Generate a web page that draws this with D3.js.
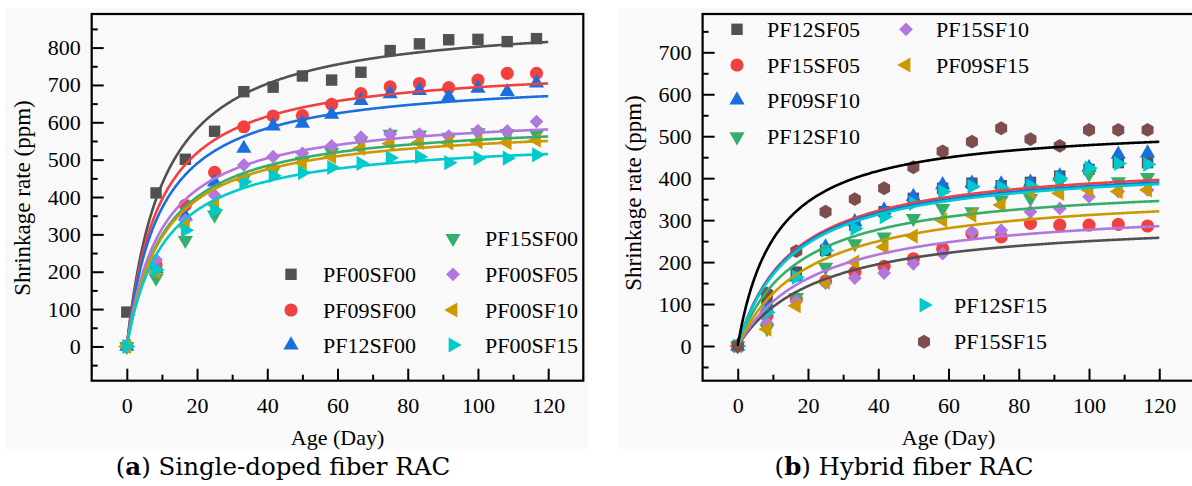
<!DOCTYPE html>
<html>
<head>
<meta charset="utf-8">
<script src="https://cdn.jsdelivr.net/npm/d3@7"></script>
<style>
  body { margin: 0; background: #ffffff; }
  svg { display: block; }
  text { font-family: "Liberation Serif", "Times New Roman", serif; fill: #000; }
</style>
</head>
<body>
<svg id="chart" width="1192" height="486"></svg>
<script>
// ---- measurement ages (days) ----
const days = [0, 8.33, 16.67, 25, 33.33, 41.67, 50, 58.33, 66.67, 75, 83.33, 91.67, 100, 108.33, 116.67];

// ---- (a) single-doped fiber RAC ----
const singleNames = ["PF00SF00", "PF09SF00", "PF12SF00", "PF15SF00", "PF00SF05", "PF00SF10", "PF00SF15"];
const singlePF00SF00 = [92, 411, 501, 576, 682, 694, 724, 713, 734, 792, 810, 821, 822, 816, 824];
const singlePF09SF00 = [0, 218, 378, 466, 588, 617, 618, 648, 677, 695, 704, 693, 713, 731, 731];
const singlePF12SF00 = [0, 208, 348, 440, 530, 590, 597, 621, 658, 676, 685, 669, 691, 682, 705];
const singlePF15SF00 = [0, 183, 284, 352, 450, 470, 497, 520, 550, 568, 566, 560, 572, 570, 568];
const singlePF00SF05 = [0, 232, 338, 405, 486, 508, 517, 537, 560, 568, 568, 563, 578, 577, 602];
const singlePF00SF10 = [0, 200, 322, 380, 445, 475, 492, 508, 530, 543, 546, 545, 548, 546, 552];
const singlePF00SF15 = [0, 205, 311, 365, 441, 457, 465, 479, 490, 505, 508, 492, 504, 504, 513];
// hyperbolic fit  S(t) = A * t / (B + t)
const singleFitA = [885.6, 758.6, 723.4, 611.6, 629.4, 598.0, 561.3];
const singleFitB = [10.39, 9.30, 9.56, 10.59, 10.00, 10.46, 10.78];

// ---- (b) hybrid fiber RAC ----
const hybridNames = ["PF12SF05", "PF15SF05", "PF09SF10", "PF12SF10", "PF15SF10", "PF09SF15", "PF12SF15", "PF15SF15"];
const hybridPF12SF05 = [0, 108, 176, 228, 288, 320, 352, 376, 388, 382, 390, 405, 421, 437, 437];
const hybridPF15SF05 = [0, 72, 112, 155, 176, 190, 208, 232, 268, 260, 292, 288, 288, 290, 286];
const hybridPF09SF10 = [0, 90, 164, 236, 296, 324, 356, 384, 388, 386, 390, 405, 425, 457, 460];
const hybridPF12SF10 = [0, 42, 116, 188, 244, 260, 304, 328, 320, 348, 352, 392, 410, 392, 402];
const hybridPF15SF10 = [0, 55, 106, 150, 162, 174, 196, 220, 272, 276, 320, 328, 356, 368, 372];
const hybridPF09SF15 = [0, 40, 96, 152, 200, 236, 262, 300, 312, 336, 368, 364, 372, 368, 372];
const hybridPF12SF15 = [0, 80, 164, 228, 280, 308, 340, 368, 380, 378, 382, 400, 424, 435, 433];
const hybridPF15SF15 = [0, 125, 226, 320, 350, 376, 426, 464, 487, 519, 493, 477, 515, 515, 515];
// fitted curves of panel (b), listed with their own line colours
const hybridCurveColors = ["#515151", "#F14040", "#1A6FDF", "#37AD6B", "#B177DE", "#CC9900", "#00CBCC", "#000000"];
const hybridFitA = [307.6, 447.0, 440.0, 394.0, 338.0, 374.5, 436.5, 531.0];
const hybridFitB = [23.1, 15.5, 15.5, 16.8, 22.0, 20.0, 15.7, 10.9];

// ---- axis ticks ----
const xTicks = [0, 20, 40, 60, 80, 100, 120];
const xMinorTicks = [10, 30, 50, 70, 90, 110];
const singleYTicks = [0, 100, 200, 300, 400, 500, 600, 700, 800];
const singleYMinor = [-50, 50, 150, 250, 350, 450, 550, 650, 750, 850];
const hybridYTicks = [0, 100, 200, 300, 400, 500, 600, 700];
const hybridYMinor = [-50, 50, 150, 250, 350, 450, 550, 650, 750];

// ---- marker styles ----
const palette = {
  gray: "#515151", red: "#F14040", blue: "#1A6FDF", green: "#37AD6B",
  purple: "#B177DE", gold: "#CC9900", cyan: "#00CBCC", brown: "#7D4E4E"
};

const symbolHexagon = {
  draw(ctx, size) {
    const r = Math.sqrt(size / (1.5 * Math.sqrt(3)));
    for (let i = 0; i < 6; i++) {
      const a = -Math.PI / 2 + i * Math.PI / 3;
      const px = r * Math.cos(a), py = r * Math.sin(a);
      if (i === 0) ctx.moveTo(px, py); else ctx.lineTo(px, py);
    }
    ctx.closePath();
  }
};

const shapes = {
  square:   { type: d3.symbolSquare,   size: 130, rot: 0 },
  circle:   { type: d3.symbolCircle,   size: 135, rot: 0 },
  up:       { type: d3.symbolTriangle, size: 100, rot: 0 },
  down:     { type: d3.symbolTriangle, size: 100, rot: 180 },
  diamond:  { type: d3.symbolSquare,   size: 95,  rot: 45 },
  left:     { type: d3.symbolTriangle, size: 100, rot: -90 },
  right:    { type: d3.symbolTriangle, size: 100, rot: 90 },
  hexagon:  { type: symbolHexagon,     size: 125, rot: 0 }
};

const singleSeries = [
  { name: singleNames[0], values: singlePF00SF00, shape: "square",  color: palette.gray },
  { name: singleNames[1], values: singlePF09SF00, shape: "circle",  color: palette.red },
  { name: singleNames[2], values: singlePF12SF00, shape: "up",      color: palette.blue },
  { name: singleNames[3], values: singlePF15SF00, shape: "down",    color: palette.green },
  { name: singleNames[4], values: singlePF00SF05, shape: "diamond", color: palette.purple },
  { name: singleNames[5], values: singlePF00SF10, shape: "left",    color: palette.gold },
  { name: singleNames[6], values: singlePF00SF15, shape: "right",   color: palette.cyan }
];
const singleCurves = singleSeries.map((s, i) => ({ color: s.color, a: singleFitA[i], b: singleFitB[i] }));

const hybridSeries = [
  { name: hybridNames[0], values: hybridPF12SF05, shape: "square",  color: palette.gray },
  { name: hybridNames[1], values: hybridPF15SF05, shape: "circle",  color: palette.red },
  { name: hybridNames[2], values: hybridPF09SF10, shape: "up",      color: palette.blue },
  { name: hybridNames[3], values: hybridPF12SF10, shape: "down",    color: palette.green },
  { name: hybridNames[4], values: hybridPF15SF10, shape: "diamond", color: palette.purple },
  { name: hybridNames[5], values: hybridPF09SF15, shape: "left",    color: palette.gold },
  { name: hybridNames[6], values: hybridPF12SF15, shape: "right",   color: palette.cyan },
  { name: hybridNames[7], values: hybridPF15SF15, shape: "hexagon", color: palette.brown }
];
const hybridCurves = hybridCurveColors.map((c, i) => ({ color: c, a: hybridFitA[i], b: hybridFitB[i] }));

const svg = d3.select("#chart");
svg.append("rect").attr("width", 1192).attr("height", 486).attr("fill", "#ffffff");

function symbolPath(shapeKey) {
  const s = shapes[shapeKey];
  return d3.symbol().type(s.type).size(s.size)();
}

function drawPanel(cfg) {
  const g = svg.append("g");
  g.append("rect")
    .attr("x", cfg.bg[0]).attr("y", cfg.bg[1])
    .attr("width", cfg.bg[2]).attr("height", cfg.bg[3])
    .attr("fill", "#f9f9f9");

  const x = d3.scaleLinear().domain([-10, 130]).range([cfg.left, cfg.right]);
  const y = d3.scaleLinear().domain(cfg.yDomain).range([cfg.bottom, cfg.top]);

  // scatter markers
  cfg.series.forEach(s => {
    const sh = shapes[s.shape];
    g.append("g").selectAll("path")
      .data(s.values.map((v, i) => [days[i], v]))
      .join("path")
      .attr("d", symbolPath(s.shape))
      .attr("fill", s.color)
      .attr("transform", d => `translate(${x(d[0])},${y(d[1])}) rotate(${sh.rot})`);
  });

  // fitted curves
  const tGrid = d3.range(0, 120.01, 0.25);
  const line = d3.line().x(d => x(d[0])).y(d => y(d[1])).curve(d3.curveLinear);
  cfg.curves.forEach(c => {
    g.append("path")
      .datum(tGrid.map(t => [t, c.a * t / (c.b + t)]))
      .attr("d", line)
      .attr("fill", "none")
      .attr("stroke", c.color)
      .attr("stroke-width", 2.6);
  });

  // axes (ticks point inward)
  const fontAttrs = sel => sel
    .attr("font-family", "'Liberation Serif', 'Times New Roman', serif")
    .attr("font-size", 22);

  const xAxis = g.append("g").attr("transform", `translate(0,${cfg.bottom})`)
    .call(d3.axisBottom(x).tickValues(xTicks).tickSize(-12).tickSizeOuter(0).tickPadding(17));
  fontAttrs(xAxis);
  g.append("g").attr("transform", `translate(0,${cfg.bottom})`)
    .call(d3.axisBottom(x).tickValues(xMinorTicks).tickSize(-6).tickSizeOuter(0).tickFormat(""));

  const yAxis = g.append("g").attr("transform", `translate(${cfg.left},0)`)
    .call(d3.axisLeft(y).tickValues(cfg.yTicks).tickSize(-12).tickSizeOuter(0).tickPadding(11));
  fontAttrs(yAxis);
  g.append("g").attr("transform", `translate(${cfg.left},0)`)
    .call(d3.axisLeft(y).tickValues(cfg.yMinor).tickSize(-6).tickSizeOuter(0).tickFormat(""));

  g.selectAll(".domain").remove();
  g.selectAll(".tick line").attr("stroke", "#000").attr("stroke-width", 2);
  g.selectAll(".tick text").attr("fill", "#000");

  // frame
  g.append("rect")
    .attr("x", cfg.left).attr("y", cfg.top)
    .attr("width", cfg.right - cfg.left).attr("height", cfg.bottom - cfg.top)
    .attr("fill", "none").attr("stroke", "#000").attr("stroke-width", 2.2);

  // axis titles
  g.append("text")
    .attr("x", x(60)).attr("y", cfg.bottom + 64)
    .attr("text-anchor", "middle").attr("font-size", 22)
    .text("Age (Day)");
  g.append("text")
    .attr("transform", `translate(${cfg.yTitle[0]},${cfg.yTitle[1]}) rotate(-90)`)
    .attr("text-anchor", "middle").attr("dominant-baseline", "central")
    .style("font-size", "23px")
    .text("Shrinkage rate (ppm)");

  // legend
  cfg.legend.forEach(item => {
    const s = cfg.series.find(d => d.name === item.name);
    const sh = shapes[s.shape];
    g.append("path")
      .attr("d", symbolPath(s.shape))
      .attr("fill", s.color)
      .attr("transform", `translate(${item.mx},${item.y}) rotate(${sh.rot})`);
    g.append("text")
      .attr("x", item.tx).attr("y", item.y)
      .attr("dominant-baseline", "central").attr("font-size", 22)
      .text(s.name);
  });

  // caption
  const cap = g.append("text")
    .attr("x", cfg.caption[0]).attr("y", cfg.caption[1])
    .attr("text-anchor", "middle").attr("dominant-baseline", "central")
    .style("font-size", "24.5px")
    .style("font-family", "'DejaVu Serif', 'Liberation Serif', serif");
  cap.append("tspan").text("(");
  cap.append("tspan").attr("font-weight", "bold").text(cfg.captionTag);
  cap.append("tspan").text(") " + cfg.captionText);
}

drawPanel({
  bg: [5, 8, 583, 441],
  left: 91.7, right: 583.3, top: 14, bottom: 380.7,
  yDomain: [-91.7, 889.9],
  yTicks: singleYTicks, yMinor: singleYMinor,
  series: singleSeries, curves: singleCurves,
  yTitle: [22, 198],
  legend: [
    { name: "PF00SF00", mx: 291, tx: 323, y: 274.3 },
    { name: "PF09SF00", mx: 291, tx: 323, y: 310 },
    { name: "PF12SF00", mx: 291, tx: 323, y: 345 },
    { name: "PF15SF00", mx: 453, tx: 485, y: 238.3 },
    { name: "PF00SF05", mx: 453, tx: 485, y: 274.3 },
    { name: "PF00SF10", mx: 453, tx: 485, y: 310 },
    { name: "PF00SF15", mx: 453, tx: 485, y: 345 }
  ],
  caption: [283, 466], captionTag: "a", captionText: "Single-doped fiber RAC"
});

drawPanel({
  bg: [618, 8, 574, 441],
  left: 702.6, right: 1194.4, top: 14, bottom: 380.7,
  yDomain: [-82.7, 791.3],
  yTicks: hybridYTicks, yMinor: hybridYMinor,
  series: hybridSeries, curves: hybridCurves,
  yTitle: [633, 193],
  legend: [
    { name: "PF12SF05", mx: 737, tx: 767, y: 29.3 },
    { name: "PF15SF05", mx: 737, tx: 767, y: 65 },
    { name: "PF09SF10", mx: 737, tx: 767, y: 100 },
    { name: "PF12SF10", mx: 737, tx: 767, y: 136.7 },
    { name: "PF15SF10", mx: 906, tx: 936, y: 29.3 },
    { name: "PF09SF15", mx: 906, tx: 936, y: 65 },
    { name: "PF12SF15", mx: 924, tx: 954, y: 305 },
    { name: "PF15SF15", mx: 924, tx: 954, y: 341.7 }
  ],
  caption: [904, 466], captionTag: "b", captionText: "Hybrid fiber RAC"
});
</script>
</body>
</html>
